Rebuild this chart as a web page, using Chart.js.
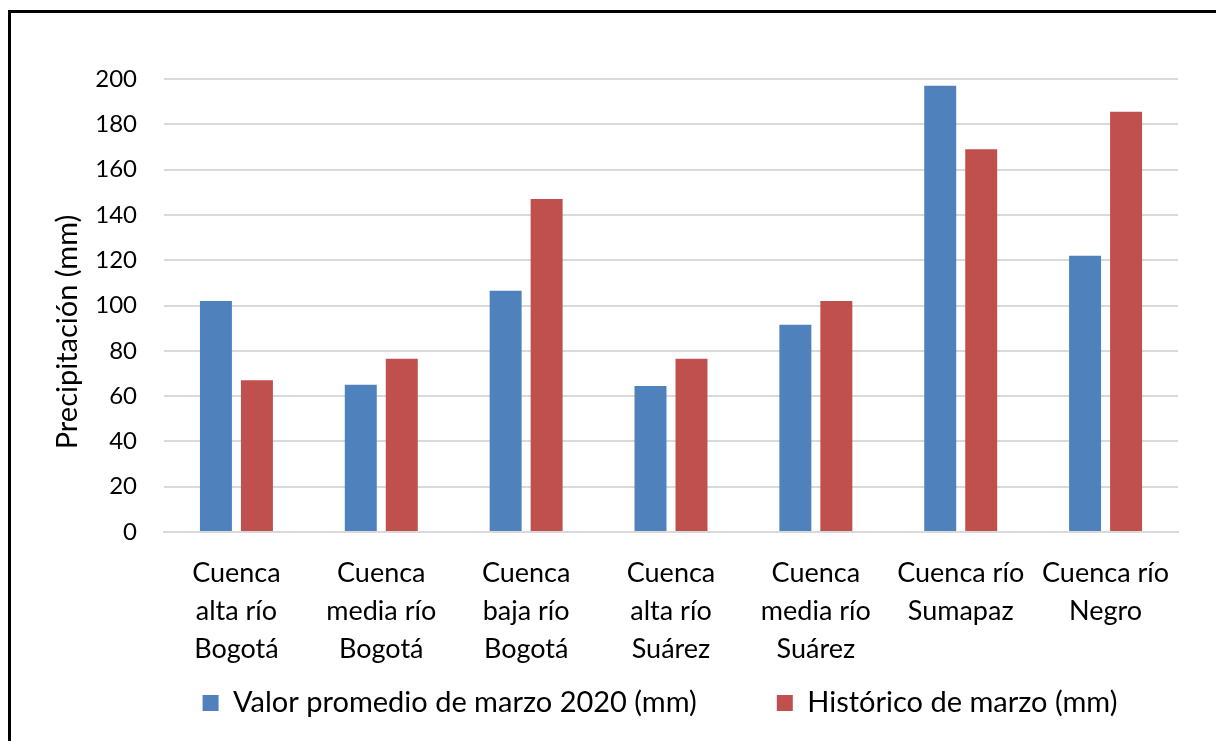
<!DOCTYPE html>
<html>
<head>
<meta charset="utf-8">
<script src="https://cdn.jsdelivr.net/npm/chart.js@4"></script>
<style>
  html, body { margin: 0; padding: 0; background: #fff; }
  #wrap { position: relative; width: 1216px; height: 741px; overflow: hidden; }
  #frame { position: absolute; left: 8px; top: 10px; right: -10px; bottom: -10px;
           border-top: 3px solid #000; border-left: 3px solid #000; pointer-events: none; }
  canvas { position: absolute; left: 0; top: 0; }
</style>
</head>
<body>
<div id="wrap">
  <canvas id="c" width="1216" height="741"></canvas>
  <div id="frame"></div>
</div>
<script>
// Precipitation per basin, March 2020 vs. March historical average
const categories = [
  ["Cuenca", "alta río", "Bogotá"],
  ["Cuenca", "media río", "Bogotá"],
  ["Cuenca", "baja río", "Bogotá"],
  ["Cuenca", "alta río", "Suárez"],
  ["Cuenca", "media río", "Suárez"],
  ["Cuenca río", "Sumapaz"],
  ["Cuenca río", "Negro"]
];
const valorMarzo2020 = [102, 65, 106.5, 64.5, 91.5, 197, 122];
const historicoMarzo = [67, 76.5, 147, 76.5, 102, 169, 185.5];
const seriesNames = ["Valor promedio de marzo 2020 (mm)", "Histórico de marzo (mm)"];
const yAxisTitle = "Precipitación (mm)";

const FONT = "Lato, 'Open Sans', sans-serif";
const PAD_LEFT = 104;       // canvas edge to y-axis box
const AREA_TOP = 79;        // top of plot area
const AREA_H = 453;         // plot area height
const LEGEND_TOP = 608.5;   // legend box top
const LEGEND_GAP = 80;      // spacing between legend entries

// Rotated y-axis title, placed beside the tick labels
const yTitlePlugin = {
  id: "yTitle",
  afterDraw(chart) {
    const ctx = chart.ctx;
    ctx.save();
    ctx.translate(68, 332);
    ctx.rotate(-Math.PI / 2);
    ctx.font = "29px " + FONT;
    ctx.fillStyle = "#000";
    ctx.textAlign = "center";
    ctx.textBaseline = "middle";
    ctx.fillText(yAxisTitle, 0, 0);
    ctx.restore();
  }
};

// Fixed legend box height, so the wide item gap does not push the plot up
const legendHeightPlugin = {
  id: "legendHeight",
  beforeLayout(chart) {
    const lg = chart.legend;
    if (lg && !lg._fixedFit) {
      const fit = lg.fit.bind(lg);
      lg.fit = function () { fit(); this.height = 741 - LEGEND_TOP; };
      lg._fixedFit = true;
    }
  }
};

// tick labels may extend past their axis box
const noLabelClip = (scale) => { scale._computeLabelArea = () => undefined; };

new Chart(document.getElementById("c"), {
  type: "bar",
  data: {
    labels: categories,
    datasets: [
      { label: seriesNames[0], data: valorMarzo2020, backgroundColor: "#4F81BD",
        barPercentage: 0.78, categoryPercentage: 0.566, yAxisID: "y" },
      { label: seriesNames[1], data: historicoMarzo, backgroundColor: "#C0504D",
        barPercentage: 0.78, categoryPercentage: 0.566, yAxisID: "y" }
    ]
  },
  options: {
    responsive: false,
    animation: false,
    devicePixelRatio: 1,
    layout: { padding: { top: AREA_TOP, right: 0, bottom: 0, left: PAD_LEFT } },
    plugins: {
      tooltip: { enabled: false },
      title: { display: false },
      legend: {
        position: "bottom",
        fullSize: true,
        labels: {
          font: { family: FONT, size: 29 },
          color: "#000",
          boxWidth: 16,
          boxHeight: 16,
          padding: LEGEND_GAP
        }
      }
    },
    scales: {
      x: {
        grid: { display: false, drawTicks: false },
        border: { display: true, color: "#D9D9D9", width: 2 },
        ticks: {
          font: { family: FONT, size: 27, lineHeight: "38px" },
          color: "#000",
          padding: 22,
          maxRotation: 0,
          autoSkip: false
        },
        beforeUpdate: noLabelClip,
        afterFit(scale) { scale.height = LEGEND_TOP - AREA_TOP - AREA_H; }
      },
      y: {
        min: 0,
        max: 200,
        grid: { color: "#D9D9D9", lineWidth: 2, drawTicks: false },
        border: { display: false },
        ticks: {
          stepSize: 20,
          font: { family: FONT, size: 24 },
          color: "#000",
          padding: 27
        },
        beforeUpdate: noLabelClip,
        afterFit(scale) { scale.width = 164 - PAD_LEFT; }
      },
      // empty right-hand margin beside the plot area
      yRight: {
        position: "right",
        min: 0,
        max: 200,
        grid: { display: false, drawOnChartArea: false },
        border: { display: false },
        ticks: { display: false },
        afterFit(scale) { scale.width = 38; }
      }
    }
  },
  plugins: [yTitlePlugin, legendHeightPlugin]
});
</script>
</body>
</html>
